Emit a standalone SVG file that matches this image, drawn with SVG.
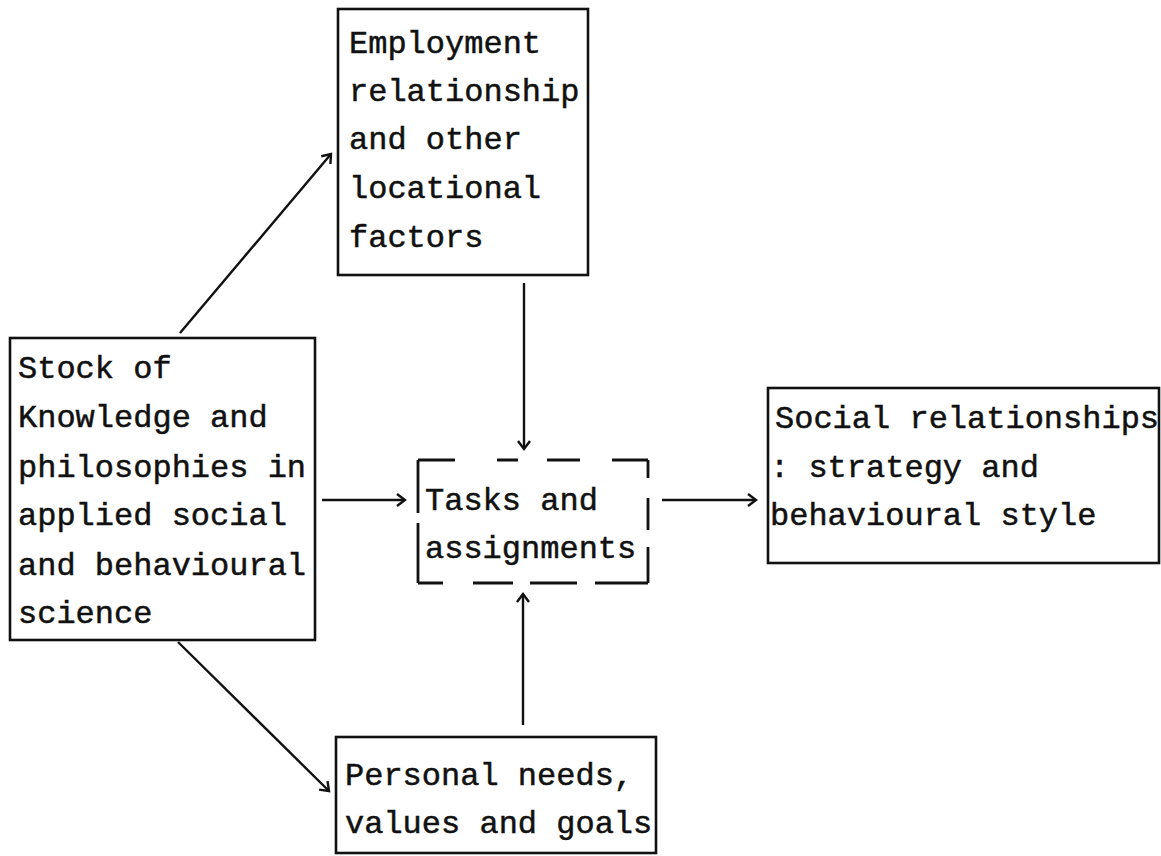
<svg xmlns="http://www.w3.org/2000/svg" width="1161" height="856" viewBox="0 0 1161 856">
  <style>
    .box { fill: none; stroke: #111; stroke-width: 2.6; }
    .dash { fill: none; stroke: #111; stroke-width: 2.8; stroke-linecap: butt; }
    .lbl { font-family: "Liberation Mono", "DejaVu Sans Mono", monospace; font-size: 32px; fill: #111; stroke: #111; stroke-width: 0.5; }
    .link { stroke: #111; stroke-width: 2.4; fill: none; marker-end: url(#head); }
  </style>
  <defs>
    <marker id="head" markerWidth="14" markerHeight="14" refX="11" refY="7" orient="auto" markerUnits="userSpaceOnUse">
      <path d="M3,1 L11,7 L3,13" fill="none" stroke="#111" stroke-width="2.4"/>
    </marker>
  </defs>
  <rect width="1161" height="856" fill="#fff"/>

  <g id="connectors">
    <line class="link" x1="180" y1="333" x2="331" y2="154"/>
    <line class="link" x1="178" y1="642" x2="329" y2="791"/>
    <line class="link" x1="524" y1="283" x2="524" y2="449"/>
    <line class="link" x1="523" y1="725" x2="523" y2="594"/>
    <line class="link" x1="322" y1="500" x2="405" y2="500"/>
    <line class="link" x1="662" y1="500" x2="756" y2="500"/>
  </g>

  <g id="employment">
    <rect class="box" x="338" y="9" width="250" height="266"/>
    <text class="lbl" x="349" y="53">Employment</text>
    <text class="lbl" x="349" y="101">relationship</text>
    <text class="lbl" x="349" y="149">and other</text>
    <text class="lbl" x="349" y="198">locational</text>
    <text class="lbl" x="349" y="247">factors</text>
  </g>

  <g id="knowledge">
    <rect class="box" x="10" y="338" width="305" height="302"/>
    <text class="lbl" x="18" y="378">Stock of</text>
    <text class="lbl" x="18" y="427">Knowledge and</text>
    <text class="lbl" x="18" y="477">philosophies in</text>
    <text class="lbl" x="18" y="525">applied social</text>
    <text class="lbl" x="18" y="575">and behavioural</text>
    <text class="lbl" x="18" y="623">science</text>
  </g>

  <g id="tasks">
    <!-- hand-broken dashed outline -->
    <path class="dash" d="M418,460 H455 M497,460 H518 M547,460 H580 M612,460 H648
                          M418,583 H443 M473,583 H513 M530,583 H577 M595,583 H648
                          M418,460 V513 M418,523 V583
                          M648,460 V478 M648,498 V530 M648,547 V583"/>
    <text class="lbl" x="425" y="510">Tasks and</text>
    <text class="lbl" x="425" y="558">assignments</text>
  </g>

  <g id="social">
    <rect class="box" x="768" y="388" width="391" height="175"/>
    <text class="lbl" x="775" y="428">Social relationships</text>
    <text class="lbl" x="770" y="477">: strategy and</text>
    <text class="lbl" x="770" y="525">behavioural style</text>
  </g>

  <g id="personal">
    <rect class="box" x="336" y="737" width="320" height="116"/>
    <text class="lbl" x="345" y="785">Personal needs,</text>
    <text class="lbl" x="345" y="833">values and goals</text>
  </g>
</svg>
